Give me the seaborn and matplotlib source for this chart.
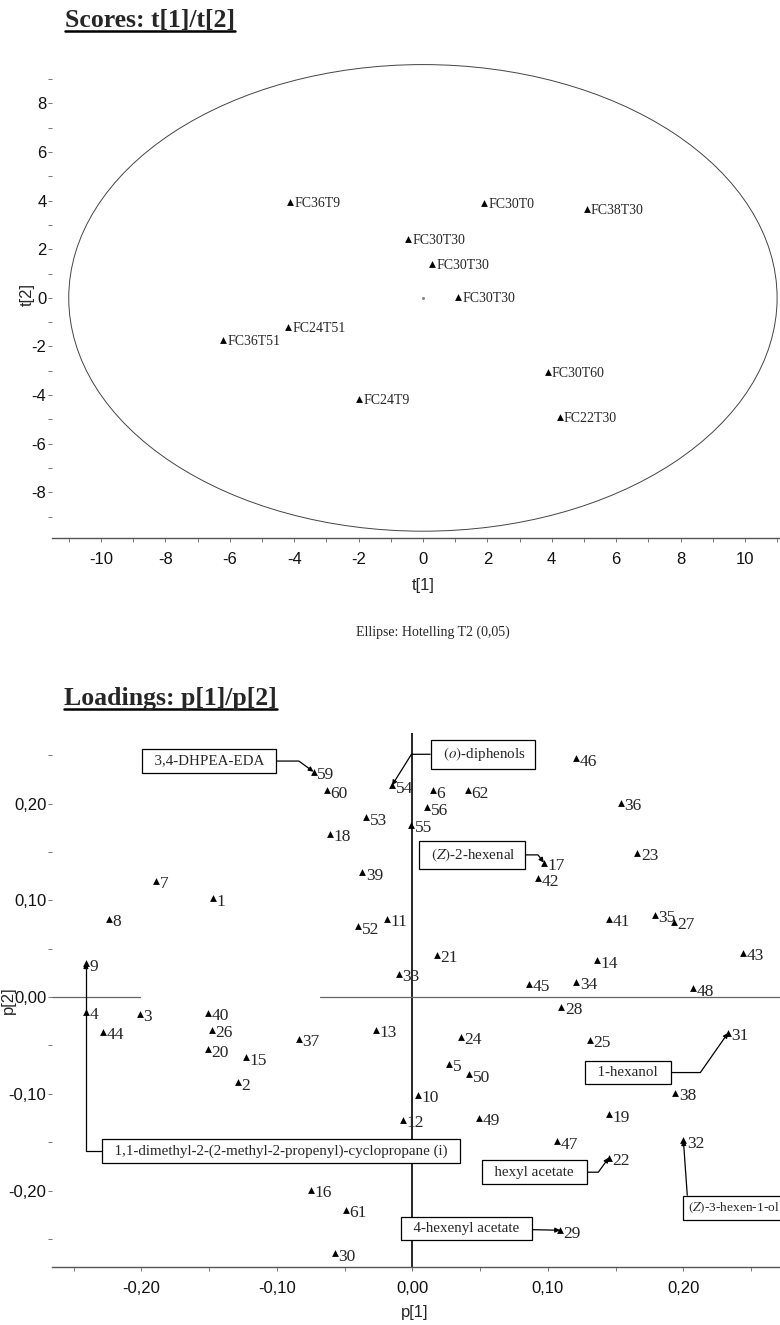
import seaborn as sns
import matplotlib.pyplot as plt
import numpy as np
import pandas as pd
from matplotlib.patches import Ellipse
from matplotlib.lines import Line2D

# score plot data (t[1], t[2])
score_names = ['FC36T9', 'FC30T0', 'FC38T30', 'FC30T30', 'FC30T30', 'FC30T30',
               'FC24T51', 'FC36T51', 'FC30T60', 'FC24T9', 'FC22T30']
t1 = [-4.13, 1.90, 5.09, -0.46, 0.28, 1.09, -4.19, -6.21, 3.88, -1.98, 4.25]
t2 = [3.95, 3.91, 3.66, 2.43, 1.40, 0.04, -1.19, -1.73, -3.05, -4.16, -4.90]

# loading plot data (p[1], p[2])
load_ids = [1, 2, 3, 4, 5, 6, 7, 8, 9, 10, 11, 12, 13, 14, 15, 16, 17, 18, 19, 20,
            21, 22, 23, 24, 25, 26, 27, 28, 29, 30, 31, 32, 33, 34, 35, 36, 37, 38, 39, 40,
            41, 42, 43, 44, 45, 46, 47, 48, 49, 50, 52, 53, 54, 55, 56, 59, 60, 61, 62]
p1 = [-0.147, -0.129, -0.201, -0.241, 0.027, 0.015, -0.189, -0.224, -0.241, 0.004,
      -0.019, -0.007, -0.027, 0.136, -0.123, -0.075, 0.097, -0.061, 0.145, -0.151,
      0.018, 0.145, 0.166, 0.036, 0.131, -0.148, 0.193, 0.110, 0.109, -0.057,
      0.233, 0.200, -0.010, 0.121, 0.179, 0.154, -0.084, 0.194, -0.037, -0.151,
      0.145, 0.093, 0.244, -0.228, 0.086, 0.121, 0.107, 0.207, 0.049, 0.042,
      -0.040, -0.034, -0.015, -0.001, 0.011, -0.073, -0.063, -0.049, 0.041]
p2 = [0.102, -0.088, -0.017, -0.015, -0.069, 0.214, 0.120, 0.081, 0.035, -0.101,
      0.081, -0.127, -0.034, 0.038, -0.062, -0.199, 0.139, 0.169, -0.121, -0.054,
      0.044, -0.166, 0.149, -0.041, -0.044, -0.034, 0.078, -0.010, -0.241, -0.265,
      -0.037, -0.148, 0.024, 0.016, 0.085, 0.201, -0.043, -0.099, 0.129, -0.016,
      0.081, 0.123, 0.046, -0.036, 0.014, 0.247, -0.149, 0.009, -0.125, -0.080,
      0.073, 0.186, 0.219, 0.178, 0.196, 0.233, 0.214, -0.220, 0.214]

# boxed compound names: text, loading id, box centre (p1, p2), connector angle
box_texts = ['  3,4-DHPEA-EDA  ', r'  $\mathit{(o)}$-diphenols  ', r'  $\mathit{(Z)}$-2-hexenal  ',
             '  1-hexanol  ', '  hexyl acetate  ', '  4-hexenyl acetate  ',
             '  1,1-dimethyl-2-(2-methyl-2-propenyl)-cyclopropane (i)  ']
box_ids = [59, 54, 17, 31, 22, 29, 9]
box_x = [-0.150, 0.052, 0.044, 0.159, 0.090, 0.040, -0.097]
box_y = [0.244, 0.251, 0.147, -0.078, -0.181, -0.239, -0.159]
box_angle = [-36, 58, 127, 55, 54, None, 90]

scores = pd.DataFrame({'name': score_names, 't1': t1, 't2': t2})
loads = pd.DataFrame({'id': load_ids, 'p1': p1, 'p2': p2})

sns.set_style('white')
plt.rcParams['font.family'] = ['Liberation Sans', 'DejaVu Sans']
plt.rcParams['mathtext.fontset'] = 'stix'
plt.rcParams['axes.unicode_minus'] = False
serif = ['Liberation Serif', 'DejaVu Serif']
axcol = '#555555'
box_style = dict(boxstyle='square,pad=0.35', fc='white', ec='black', lw=0.9)

W, H = 780, 1325
fig = plt.figure(figsize=(7.8, 13.25), dpi=100)

# ---------------- Scores ----------------
ax1 = fig.add_axes([52 / W, 1 - 538 / H, 728 / W, 488 / H])
ax1.add_patch(Ellipse((0, 0), 22, 19.2, fill=False, ec='#444444', lw=0.7))
ax1.scatter([0], [0], s=1.5, color='#888888')
sns.scatterplot(data=scores, x='t1', y='t2', marker='^', color='black', s=24,
                linewidth=0, ax=ax1, legend=False)
for _, r in scores.iterrows():
    ax1.annotate(r['name'], (r['t1'], r['t2']), xytext=(3, -1), textcoords='offset points',
                 va='center', ha='left', fontsize=10, family=serif)
ax1.set_xlim(-11.52, 11.09)
ax1.set_ylim(-9.88, 10.2)
ax1.set_xticks(np.arange(-10, 11, 2))
ax1.set_xticks(np.arange(-11, 12, 2), minor=True)
ax1.set_yticks(np.arange(-8, 9, 2))
ax1.set_yticks(np.arange(-9, 10, 2), minor=True)
ax1.set_xlabel('t[1]', fontsize=12)
ax1.set_ylabel('t[2]', fontsize=12)
ax1.xaxis.set_label_coords(0.5096, -0.082)
ax1.yaxis.set_label_coords(-0.024, 0.5)

# ---------------- Loadings ----------------
ax2 = fig.add_axes([52 / W, 1 - 1267 / H, 728 / W, 534 / H])
ax2.axvline(0, color='black', lw=1.2, zorder=1)
ax2.axhline(0, xmin=0, xmax=0.121, color='#666666', lw=0.9, zorder=1)
ax2.axhline(0, xmin=0.368, xmax=1, color='#666666', lw=0.9, zorder=1)
sns.scatterplot(data=loads, x='p1', y='p2', marker='^', color='black', s=24,
                linewidth=0, ax=ax2, legend=False, zorder=3)
for _, r in loads.iterrows():
    ax2.annotate(str(int(r['id'])), (r['p1'], r['p2']), xytext=(2.5, -2.5),
                 textcoords='offset points', va='center', ha='left',
                 fontsize=12.5, family=serif)

pos = dict(zip(load_ids, zip(p1, p2)))
for txt, i, bx, by, ang in zip(box_texts, box_ids, box_x, box_y, box_angle):
    if ang is None:
        cs = 'arc3'
    else:
        cs = 'angle,angleA=0,angleB=%g,rad=0' % ang
    ax2.annotate(txt, pos[i], xytext=(bx, by), textcoords='data',
                 ha='center', va='center', fontsize=10.8, family=serif, bbox=box_style,
                 arrowprops=dict(arrowstyle='-|>', connectionstyle=cs, color='black',
                                 lw=0.9, shrinkA=0, shrinkB=0, mutation_scale=7),
                 annotation_clip=False, zorder=4)

# (Z)-3-hexen-1-ol box sits at the right edge; connector from its left side up to 32
ax2.annotate(r'$\mathit{(Z)}$-3-hexen-1-ol', pos[32], xytext=(0.2035, -0.2176),
             textcoords='data', ha='left', va='center', fontsize=9.6, family=serif,
             bbox=box_style,
             arrowprops=dict(arrowstyle='-|>', connectionstyle='arc3', relpos=(0, 0.5),
                             color='black', lw=0.9, shrinkA=0, shrinkB=0, mutation_scale=7),
             annotation_clip=False, zorder=4)

ax2.set_xlim(-0.266, 0.2713)
ax2.set_ylim(-0.279, 0.273)
ax2.set_xticks([-0.2, -0.1, 0.0, 0.1, 0.2])
ax2.set_xticks([-0.25, -0.15, -0.05, 0.05, 0.15, 0.25], minor=True)
ax2.set_yticks([-0.2, -0.1, 0.0, 0.1, 0.2])
ax2.set_yticks([-0.25, -0.15, -0.05, 0.05, 0.15, 0.25], minor=True)
ax2.set_xticklabels(['-0,20', '-0,10', '0,00', '0,10', '0,20'])
ax2.set_yticklabels(['-0,20', '-0,10', '0,00', '0,10', '0,20'])
ax2.set_xlabel('p[1]', fontsize=12)
ax2.set_ylabel('p[2]', fontsize=12)
ax2.xaxis.set_label_coords(0.4986, -0.071)
ax2.yaxis.set_label_coords(-0.050, 0.5)

for ax in (ax1, ax2):
    for s in ('top', 'right', 'left'):
        ax.spines[s].set_visible(False)
    ax.spines['bottom'].set_color(axcol)
    ax.spines['bottom'].set_linewidth(1.0)
    ax.patch.set_alpha(0)
    ax.tick_params(axis='both', which='both', direction='out', color='#777777',
                   length=3, width=0.7, labelsize=12, labelcolor='#111111')
    ax.tick_params(axis='x', which='both', bottom=True, pad=7)
    ax.tick_params(axis='y', which='both', left=True, pad=1)

# titles (underlined)
t_a = fig.text(65 / W, 1 - 27 / H, 'Scores: t[1]/t[2]', ha='left', va='baseline',
               fontsize=18.5, fontweight='bold', family=serif)
t_b = fig.text(64 / W, 1 - 705 / H, 'Loadings: p[1]/p[2]', ha='left', va='baseline',
               fontsize=18.5, fontweight='bold', family=serif)
fig.text(433 / W, 1 - 632 / H, 'Ellipse: Hotelling T2 (0,05)', ha='center', va='center',
         fontsize=10, family=serif)

fig.canvas.draw()
rend = fig.canvas.get_renderer()
for t in (t_a, t_b):
    bb = t.get_window_extent(rend)
    yb = t.get_position()[1] - 4 / H
    fig.add_artist(Line2D([bb.x0 / W, bb.x1 / W], [yb, yb], transform=fig.transFigure,
                          color='black', lw=1.8))

fig.savefig('out.png', dpi=100)
